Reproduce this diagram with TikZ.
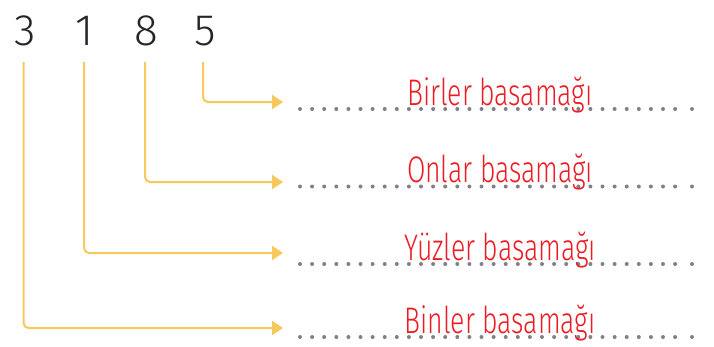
\documentclass[tikz,border=0pt]{standalone}
\usepackage{fontspec}
\setmainfont{Open Sans}
\newfontfamily\labelfont[FakeStretch=0.72]{Fira Sans Light}
\newfontfamily\digitfont{Fira Sans Light}
\usepackage{xcolor}
\usetikzlibrary{arrows.meta}
\usetikzlibrary{math}
\definecolor{myyellow}{RGB}{247,200,92}
\definecolor{myred}{RGB}{236,28,36}
\definecolor{mygray}{RGB}{128,128,134}

\begin{document}
\begin{tikzpicture}[x=1pt,y=-1pt,
  digit/.style={inner sep=0pt,font=\digitfont\fontsize{44}{44}\selectfont,text=black!85},
  conn/.style={-{Triangle[length=11pt,width=14pt]},line width=2pt,color=myyellow,rounded corners=5pt},
  place/.style={inner sep=0pt,anchor=base,font=\labelfont\fontsize{37}{37}\selectfont,text=myred}
]
\tikzmath{
\xa=300; \dx=12.1;
}
\useasboundingbox (0,0) rectangle (714,346);

% digits
\node[digit] (d3) at (25,31) {3};
\node[digit] (d1) at (85,31) {1};
\node[digit] (d8) at (146,31) {8};
\node[digit] (d5) at (205,31) {5};

% line starts below the digits
\coordinate (s3) at (23.5,62);
\coordinate (s1) at (84,62);
\coordinate (s8) at (145,62);
\coordinate (s5) at (203,62);

% arrow ends
\coordinate (e5) at (283,102);
\coordinate (e8) at (283,182);
\coordinate (e1) at (283,253);
\coordinate (e3) at (283,328);

\draw[conn] (s5) |- (e5);
\draw[conn] (s8) |- (e8);
\draw[conn] (s1) |- (e1);
\draw[conn] (s3) |- (e3);

% dotted lines
\foreach \y in {109,186.5,264,337}{
  \foreach \i in {0,...,31}{
    \fill[mygray] (\xa+\i*\dx,\y) circle (2pt);
  }
  \fill[mygray] (692,\y) circle (2pt);
}

% labels
\node[place] (b1) at (500,105) {Birler basamağı};
\node[place] (b2) at (500,182.5) {Onlar basamağı};
\node[place] (b3) at (500,260) {Yüzler basamağı};
\node[place] (b4) at (500,333) {Binler basamağı};

\end{tikzpicture}
\end{document}
